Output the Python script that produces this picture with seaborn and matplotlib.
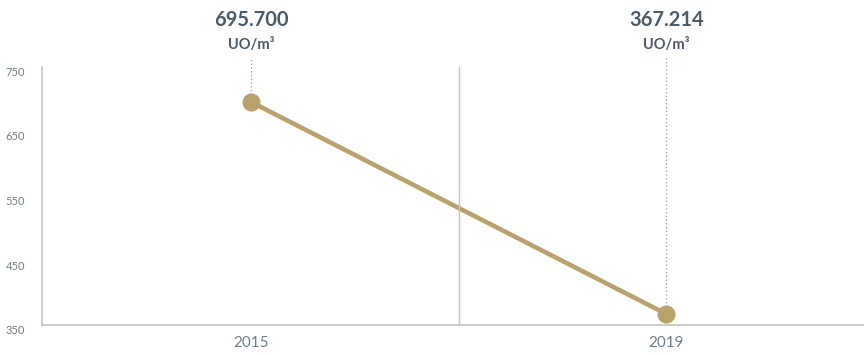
import pandas as pd
import matplotlib.pyplot as plt
import seaborn as sns

# Datos
years = ['2015', '2019']
values = [695.700, 367.214]
value_labels = ['695.700', '367.214']
unit = 'UO/m³'

df = pd.DataFrame({'Año': years, 'Valor': values})

sns.set_style('white')
plt.rcParams['font.family'] = ['Lato', 'DejaVu Sans']

gold = '#b9a36b'
text_dark = '#4b5b6b'
text_light = '#6f7d8b'
spine_col = '#c4c4c4'

fig = plt.figure(figsize=(8.64, 3.55), dpi=100)
# ejes que se extienden un poco más allá del borde derecho
ax = fig.add_axes([42 / 864, 1 - 325 / 355, 830 / 864, 258 / 355])

sns.lineplot(data=df, x='Año', y='Valor', ax=ax, color=gold, linewidth=3.3,
             marker='o', markersize=13, markeredgewidth=0, sort=False)

ax.set_xlim(-0.504, 1.496)
ax.set_ylim(350, 750)
ax.set_yticks([350, 450, 550, 650, 750])
ax.set_xlabel('')
ax.set_ylabel('')

# separador vertical entre los años
ax.axvline(0.5, color=spine_col, linewidth=1)

# líneas punteadas y etiquetas de valor
for i, (v, lab) in enumerate(zip(values, value_labels)):
    ax.plot([i, i], [v, 766], linestyle=(0, (1, 2)), color='#999999',
            linewidth=0.9, zorder=1, clip_on=False)
    ax.annotate(lab, xy=(i, 750), xytext=(0, 33.5), textcoords='offset points',
                ha='center', va='center', fontsize=14.5, fontweight='bold',
                color=text_dark, annotation_clip=False)
    ax.annotate(unit, xy=(i, 750), xytext=(0, 15.5), textcoords='offset points',
                ha='center', va='center', fontsize=10.5, fontweight='bold',
                color=text_dark, annotation_clip=False)

for side in ['top', 'right']:
    ax.spines[side].set_visible(False)
for side in ['left', 'bottom']:
    ax.spines[side].set_color(spine_col)
    ax.spines[side].set_linewidth(1.2)

ax.tick_params(axis='y', length=0, labelsize=8, labelcolor=text_light, pad=12)
ax.tick_params(axis='x', length=0, labelsize=11, labelcolor=text_light, pad=8)
for t in ax.get_yticklabels():
    t.set_verticalalignment('top')

plt.savefig('out.png', dpi=100)
